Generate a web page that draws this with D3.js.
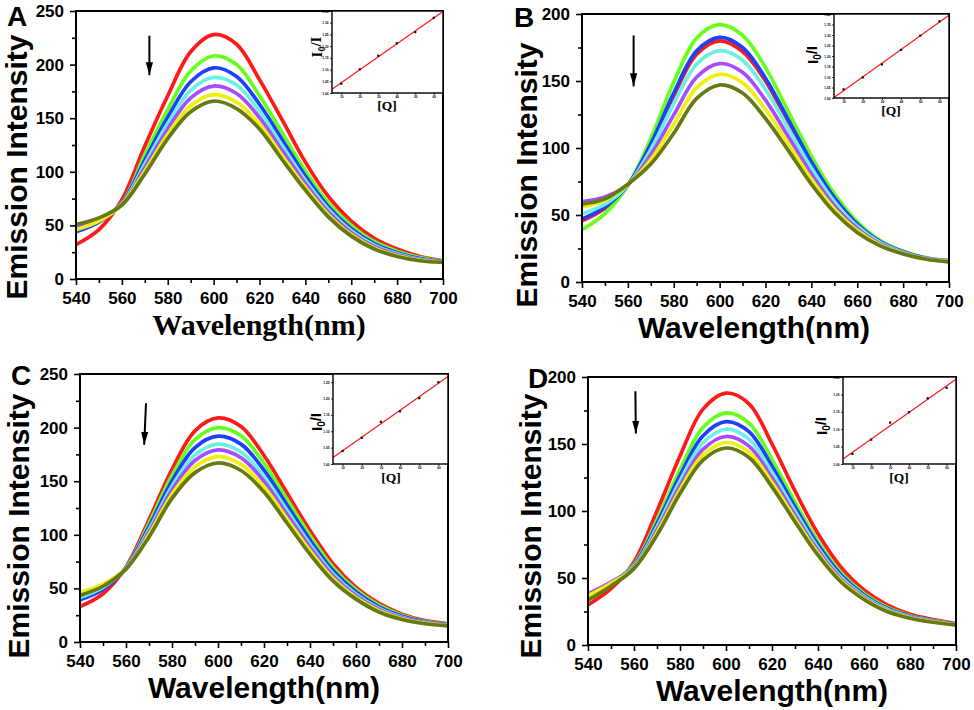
<!DOCTYPE html>
<html>
<head>
<meta charset="utf-8">
<script src="https://cdn.jsdelivr.net/npm/d3@7"></script>
<style>
body { margin: 0; background: #fff; }
svg { display: block; }
.sans { font-family: "Liberation Sans", Arial, sans-serif; font-weight: bold; }
.serif { font-family: "Liberation Serif", "Times New Roman", serif; font-weight: bold; }
</style>
</head>
<body>
<svg id="chart" width="974" height="710"></svg>
<script>
// wavelength grid (nm) shared by every spectrum
var wavelengths = [540, 550, 560, 570, 580, 590, 600, 610, 620, 630, 640, 650, 660, 670, 680, 690, 700];
var seriesColors = ["#ff1a1a", "#66ff1a", "#1f3fff", "#6af0e4", "#a64dff", "#f0f00d", "#667a14"];
var xTicks = [540, 560, 580, 600, 620, 640, 660, 680, 700];
var xMinor = [550, 570, 590, 610, 630, 650, 670, 690];
var yTicks250 = [0, 50, 100, 150, 200, 250];
var yMinor250 = [25, 75, 125, 175, 225];
var yTicks200 = [0, 50, 100, 150, 200];
var yMinor200 = [25, 75, 125, 175];

// emission spectra, rows: red, green, blue, cyan, purple, yellow, olive
var intensityA = [
  [32, 46, 74, 124, 171, 212, 228, 219, 186, 148, 109, 77, 54, 38, 28, 21, 17],
  [50, 56, 71, 116, 158, 194, 208, 200, 171, 136, 101, 71, 50, 35, 26, 20, 16.5],
  [44, 53, 70.5, 111, 151, 184, 197, 189, 163, 129.5, 96, 67.5, 47, 33, 24.5, 19, 16.3],
  [47, 55, 70, 107.4, 145, 176, 188, 181, 156.5, 124, 92, 65, 45, 31.6, 23.5, 18.4, 16],
  [49, 56, 69.7, 104, 140, 169, 180, 173, 150.6, 119.5, 89, 62.4, 43.2, 30.3, 22.6, 17.9, 15.8],
  [46, 54, 69.3, 100.6, 135, 161.6, 172, 165, 144.6, 114.7, 85.6, 60, 41.4, 29, 21.7, 17.4, 15.6],
  [51, 57, 69, 98, 131, 156, 166, 159, 140, 111, 83, 58, 40, 28, 21, 17, 15.5]
];
var intensityB = [
  [45.6, 55, 72.3, 102, 139, 170, 180, 172, 150, 119, 88, 62, 43, 30, 22.5, 17.7, 15.7],
  [39, 51, 72, 107, 149, 182, 192, 184, 160, 127, 94, 66, 45, 31, 23, 18, 16],
  [47, 56, 72.5, 103, 141, 172.5, 182.5, 175, 152, 121, 89.6, 63, 43.3, 30.2, 22.6, 17.8, 15.8],
  [51, 58, 72.4, 99, 133, 162.6, 172.6, 165.5, 143.7, 114.5, 85, 60, 41.6, 29.3, 22.1, 17.6, 15.6],
  [60, 63.5, 72.6, 95, 124.7, 153, 163, 156.5, 135.7, 108.4, 80.6, 57, 40, 28.4, 21.7, 17.4, 15.4],
  [56, 61, 72.8, 91.4, 117.8, 145, 155, 148.7, 128.8, 103.2, 76.8, 54.5, 38.4, 27.7, 21.4, 17.2, 15.2],
  [58, 62, 73, 88, 111, 137, 147, 141, 122, 98, 73, 52, 37, 27, 21, 17, 15]
];
var intensityC = [
  [33, 45, 70, 114, 161, 197, 209, 201, 174, 139, 104, 73, 51, 36, 26, 20, 17],
  [41, 50, 69.6, 110.6, 155.3, 188.8, 200, 192.4, 166.9, 133.1, 99.4, 69.6, 48.7, 34.3, 25, 19.4, 16.6],
  [39.4, 49, 69.2, 107.6, 150.2, 181.4, 192, 184.6, 160.4, 127.8, 95.2, 66.6, 46.6, 32.8, 24, 18.8, 16.2],
  [41.6, 51, 68.8, 104.7, 145.3, 174.4, 184.6, 177.2, 154.3, 122.8, 91.2, 63.7, 44.6, 31.4, 23.1, 18.3, 15.8],
  [45, 53.5, 68.6, 102.6, 141.8, 169.3, 179.2, 171.9, 149.9, 119.1, 88.4, 61.6, 43.2, 30.3, 22.5, 17.9, 15.6],
  [46.6, 54, 68.3, 100.2, 137.8, 163.5, 172.9, 165.7, 144.8, 114.9, 85.1, 59.2, 41.5, 29.1, 21.7, 17.4, 15.3],
  [43.5, 52, 68, 98, 134, 158, 167, 160, 140, 111, 82, 57, 40, 28, 21, 17, 15]
];
var intensityD = [
  [30, 42, 62, 100, 141, 176, 188, 180, 150, 115, 83, 58, 41, 30, 23, 19, 16],
  [35.3, 46, 60.2, 93.5, 130.9, 162.3, 173.2, 165.6, 138.5, 106.7, 77.2, 54, 38.5, 28.2, 21.9, 18.3, 15.6],
  [34.5, 45, 59.4, 90.6, 126.4, 156.2, 166.7, 159.2, 133.4, 103, 74.7, 52.3, 37.4, 27.4, 21.4, 18, 15.5],
  [35, 45.5, 58.7, 88.1, 122.5, 150.9, 161, 153.6, 128.9, 99.8, 72.4, 50.7, 36.4, 26.7, 21, 17.7, 15.3],
  [38.3, 47, 58, 85.8, 118.9, 146, 155.6, 148.4, 124.7, 96.8, 70.4, 49.3, 35.5, 26, 20.6, 17.4, 15.2],
  [36.8, 46, 57.5, 83.8, 115.8, 141.8, 151.1, 144, 121.2, 94.3, 68.6, 48.1, 34.7, 25.5, 20.3, 17.2, 15.1],
  [33.5, 44, 57, 82, 113, 138, 147, 140, 118, 92, 67, 47, 34, 25, 20, 17, 15]
];

// Stern-Volmer insets
var insetQ = [10, 20, 30, 40, 50, 60];
var insetQTicks = [10, 20, 30, 40, 50, 60];
var insetRatioA = [1.040, 1.101, 1.159, 1.212, 1.260, 1.321];
var insetRatioB = [1.041, 1.098, 1.160, 1.229, 1.297, 1.365];
var insetRatioC = [1.040, 1.080, 1.129, 1.161, 1.201, 1.250];
var insetRatioD = [1.029, 1.070, 1.119, 1.149, 1.189, 1.219];
var insetTicksA = [1.00, 1.05, 1.10, 1.15, 1.20, 1.25, 1.30, 1.35];
var insetTicksB = [1.00, 1.05, 1.10, 1.15, 1.20, 1.25, 1.30, 1.35, 1.40];
var insetTicksC = [1.00, 1.05, 1.10, 1.15, 1.20, 1.25];
var insetTicksD = [1.00, 1.05, 1.10, 1.15, 1.20, 1.25];

// quench arrows, [wavelength, intensity] start and tip
var arrowA = [[572, 227], [572, 190]];
var arrowB = [[562.5, 184], [562.5, 146]];
var arrowC = [[568.7, 222.7], [567.9, 183.9]];
var arrowD = [[560.6, 189.3], [560.8, 157.8]];

var svg = d3.select("#chart");

svg.append("defs").append("marker")
    .attr("id", "head")
    .attr("viewBox", "0 -4 13 8")
    .attr("refX", 13).attr("refY", 0)
    .attr("markerUnits", "userSpaceOnUse")
    .attr("markerWidth", 13).attr("markerHeight", 8)
    .attr("orient", "auto")
    .append("path")
    .attr("d", "M0,-3.6L13,0L0,3.6Z")
    .attr("fill", "#000");

function style_axis(g, size) {
    g.select(".domain").remove();
    g.selectAll("line").attr("stroke", "#000").attr("stroke-width", 1.6);
    g.selectAll("text").attr("class", "sans").style("font-size", size + "px").attr("fill", "#000");
}

function make_panel(p) {
    var X = d3.scaleLinear().domain([540, 700]).range([p.left, p.right]),
        Y = d3.scaleLinear().domain([0, p.yMax]).range([p.bottom, p.top]);
    var g = svg.append("g");

    g.append("clipPath").attr("id", "clip" + p.id)
        .append("rect")
        .attr("x", p.left).attr("y", p.top)
        .attr("width", p.right - p.left).attr("height", p.bottom - p.top);

    var line = d3.line()
        .x(function (d, j) { return X(wavelengths[j]); })
        .y(function (d) { return Y(d); })
        .curve(d3.curveCatmullRom);

    g.append("g").attr("clip-path", "url(#clip" + p.id + ")")
        .selectAll("path")
        .data(p.series)
        .join("path")
        .attr("d", line)
        .attr("fill", "none")
        .attr("stroke", function (d, i) { return seriesColors[i]; })
        .attr("stroke-width", 3.7)
        .attr("stroke-linejoin", "round");

    // axes
    g.append("g").attr("transform", "translate(0," + p.bottom + ")")
        .call(d3.axisBottom(X).tickValues(xTicks).tickSize(6).tickPadding(7).tickSizeOuter(0))
        .call(style_axis, 17);
    g.append("g").attr("transform", "translate(0," + p.bottom + ")")
        .call(d3.axisBottom(X).tickValues(xMinor).tickSize(4).tickFormat(""))
        .call(style_axis, 17);
    g.append("g").attr("transform", "translate(" + p.left + ",0)")
        .call(d3.axisLeft(Y).tickValues(p.yTicks).tickSize(6).tickPadding(6).tickSizeOuter(0))
        .call(style_axis, 17);
    g.append("g").attr("transform", "translate(" + p.left + ",0)")
        .call(d3.axisLeft(Y).tickValues(p.yMinor).tickSize(4).tickFormat(""))
        .call(style_axis, 17);

    g.append("rect")
        .attr("x", p.left).attr("y", p.top)
        .attr("width", p.right - p.left).attr("height", p.bottom - p.top)
        .attr("fill", "none").attr("stroke", "#000").attr("stroke-width", 2);

    // arrow
    g.append("line")
        .attr("x1", X(p.arrow[0][0])).attr("y1", Y(p.arrow[0][1]))
        .attr("x2", X(p.arrow[1][0])).attr("y2", Y(p.arrow[1][1]))
        .attr("stroke", "#000").attr("stroke-width", 2)
        .attr("marker-end", "url(#head)");

    // labels
    g.append("text").attr("class", "sans")
        .attr("x", p.letter[0]).attr("y", p.letter[1])
        .style("font-size", "28px").text(p.id);
    g.append("text").attr("class", "sans")
        .attr("transform", "translate(" + p.yLabel[0] + "," + p.yLabel[1] + ") rotate(-90)")
        .attr("text-anchor", "middle")
        .style("font-size", "30px").text("Emission Intensity");
    g.append("text").attr("class", p.serif ? "serif" : "sans")
        .attr("x", p.xLabel[0]).attr("y", p.xLabel[1])
        .attr("text-anchor", "middle")
        .style("font-size", "30px").text("Wavelength(nm)");

    make_inset(g, p);
}

function make_inset(g, p) {
    var s = p.inset;
    var X = d3.scaleLinear().domain([5, 65]).range([s.left, s.right]),
        Y = d3.scaleLinear().domain([1.0, s.yMax]).range([s.bottom, s.top]);
    var ig = g.append("g");

    ig.append("rect")
        .attr("x", s.left).attr("y", s.top)
        .attr("width", s.right - s.left).attr("height", s.bottom - s.top)
        .attr("fill", "#fff");

    ig.append("g").attr("transform", "translate(0," + s.bottom + ")")
        .call(d3.axisBottom(X).tickValues(insetQTicks).tickSize(2).tickPadding(1))
        .call(style_axis, 3.2);
    ig.append("g").attr("transform", "translate(" + s.left + ",0)")
        .call(d3.axisLeft(Y).tickValues(s.ticks).tickSize(2).tickPadding(1.5).tickFormat(d3.format(".2f")))
        .call(style_axis, 3.2);
    ig.selectAll("line").attr("stroke-width", 0.8);

    // least-squares fit of the points
    var mx = d3.mean(insetQ), my = d3.mean(s.ratio),
        sxy = d3.sum(insetQ, function (q, i) { return (q - mx) * (s.ratio[i] - my); }),
        sxx = d3.sum(insetQ, function (q) { return (q - mx) * (q - mx); }),
        k = sxy / sxx, b = my - k * mx;

    ig.append("clipPath").attr("id", "iclip" + p.id)
        .append("rect")
        .attr("x", s.left).attr("y", s.top)
        .attr("width", s.right - s.left).attr("height", s.bottom - s.top);

    var dom = X.domain();
    ig.append("line")
        .attr("clip-path", "url(#iclip" + p.id + ")")
        .attr("x1", X(dom[0])).attr("y1", Y(k * dom[0] + b))
        .attr("x2", X(dom[1])).attr("y2", Y(k * dom[1] + b))
        .attr("stroke", "#ff1a1a").attr("stroke-width", 1.2);

    ig.selectAll("rect.pt")
        .data(insetQ)
        .join("rect")
        .attr("class", "pt")
        .attr("x", function (q) { return X(q) - 1.1; })
        .attr("y", function (q, i) { return Y(s.ratio[i]) - 1.1; })
        .attr("width", 2.2).attr("height", 2.2)
        .attr("fill", "#111");

    ig.append("rect")
        .attr("x", s.left).attr("y", s.top)
        .attr("width", s.right - s.left).attr("height", s.bottom - s.top)
        .attr("fill", "none").attr("stroke", "#000").attr("stroke-width", 1.4);

    var lab = ig.append("text").attr("class", p.serif ? "serif" : "sans")
        .attr("transform", "translate(" + s.yLabel[0] + "," + s.yLabel[1] + ") rotate(-90)")
        .attr("text-anchor", "middle")
        .style("font-size", "15px");
    lab.append("tspan").text("I");
    lab.append("tspan").attr("dy", "0.3em").style("font-size", "10px").text("0");
    lab.append("tspan").attr("dy", "-0.3em").text("/I");

    ig.append("text").attr("class", "serif")
        .attr("x", s.qLabel[0]).attr("y", s.qLabel[1])
        .attr("text-anchor", "middle")
        .style("font-size", "13.5px").text("[Q]");
}

make_panel({
    id: "A", serif: true, left: 76, right: 443, top: 11, bottom: 279, yMax: 250,
    yTicks: yTicks250, yMinor: yMinor250, series: intensityA, arrow: arrowA,
    letter: [7, 26], yLabel: [27, 167], xLabel: [259, 335],
    inset: { left: 332, right: 443, top: 11, bottom: 93, yMax: 1.35, ticks: insetTicksA,
             ratio: insetRatioA, yLabel: [322, 47], qLabel: [387, 110] }
});
make_panel({
    id: "B", serif: false, left: 582, right: 949, top: 14, bottom: 282, yMax: 200,
    yTicks: yTicks200, yMinor: yMinor200, series: intensityB, arrow: arrowB,
    letter: [514, 27], yLabel: [537, 175], xLabel: [754, 338],
    inset: { left: 834, right: 949, top: 14, bottom: 98, yMax: 1.40, ticks: insetTicksB,
             ratio: insetRatioB, yLabel: [818, 55], qLabel: [891, 115] }
});
make_panel({
    id: "C", serif: false, left: 80, right: 448, top: 374, bottom: 642, yMax: 250,
    yTicks: yTicks250, yMinor: yMinor250, series: intensityC, arrow: arrowC,
    letter: [11, 385], yLabel: [29, 526], xLabel: [264, 698],
    inset: { left: 333, right: 448, top: 374, bottom: 464, yMax: 1.275, ticks: insetTicksC,
             ratio: insetRatioC, yLabel: [322, 422], qLabel: [391, 482] }
});
make_panel({
    id: "D", serif: false, left: 588, right: 956, top: 377, bottom: 645, yMax: 200,
    yTicks: yTicks200, yMinor: yMinor200, series: intensityD, arrow: arrowD,
    letter: [528, 388], yLabel: [541, 526], xLabel: [772, 701],
    inset: { left: 843, right: 956, top: 377, bottom: 464, yMax: 1.25, ticks: insetTicksD,
             ratio: insetRatioD, yLabel: [827, 426], qLabel: [899, 482] }
});
</script>
</body>
</html>
